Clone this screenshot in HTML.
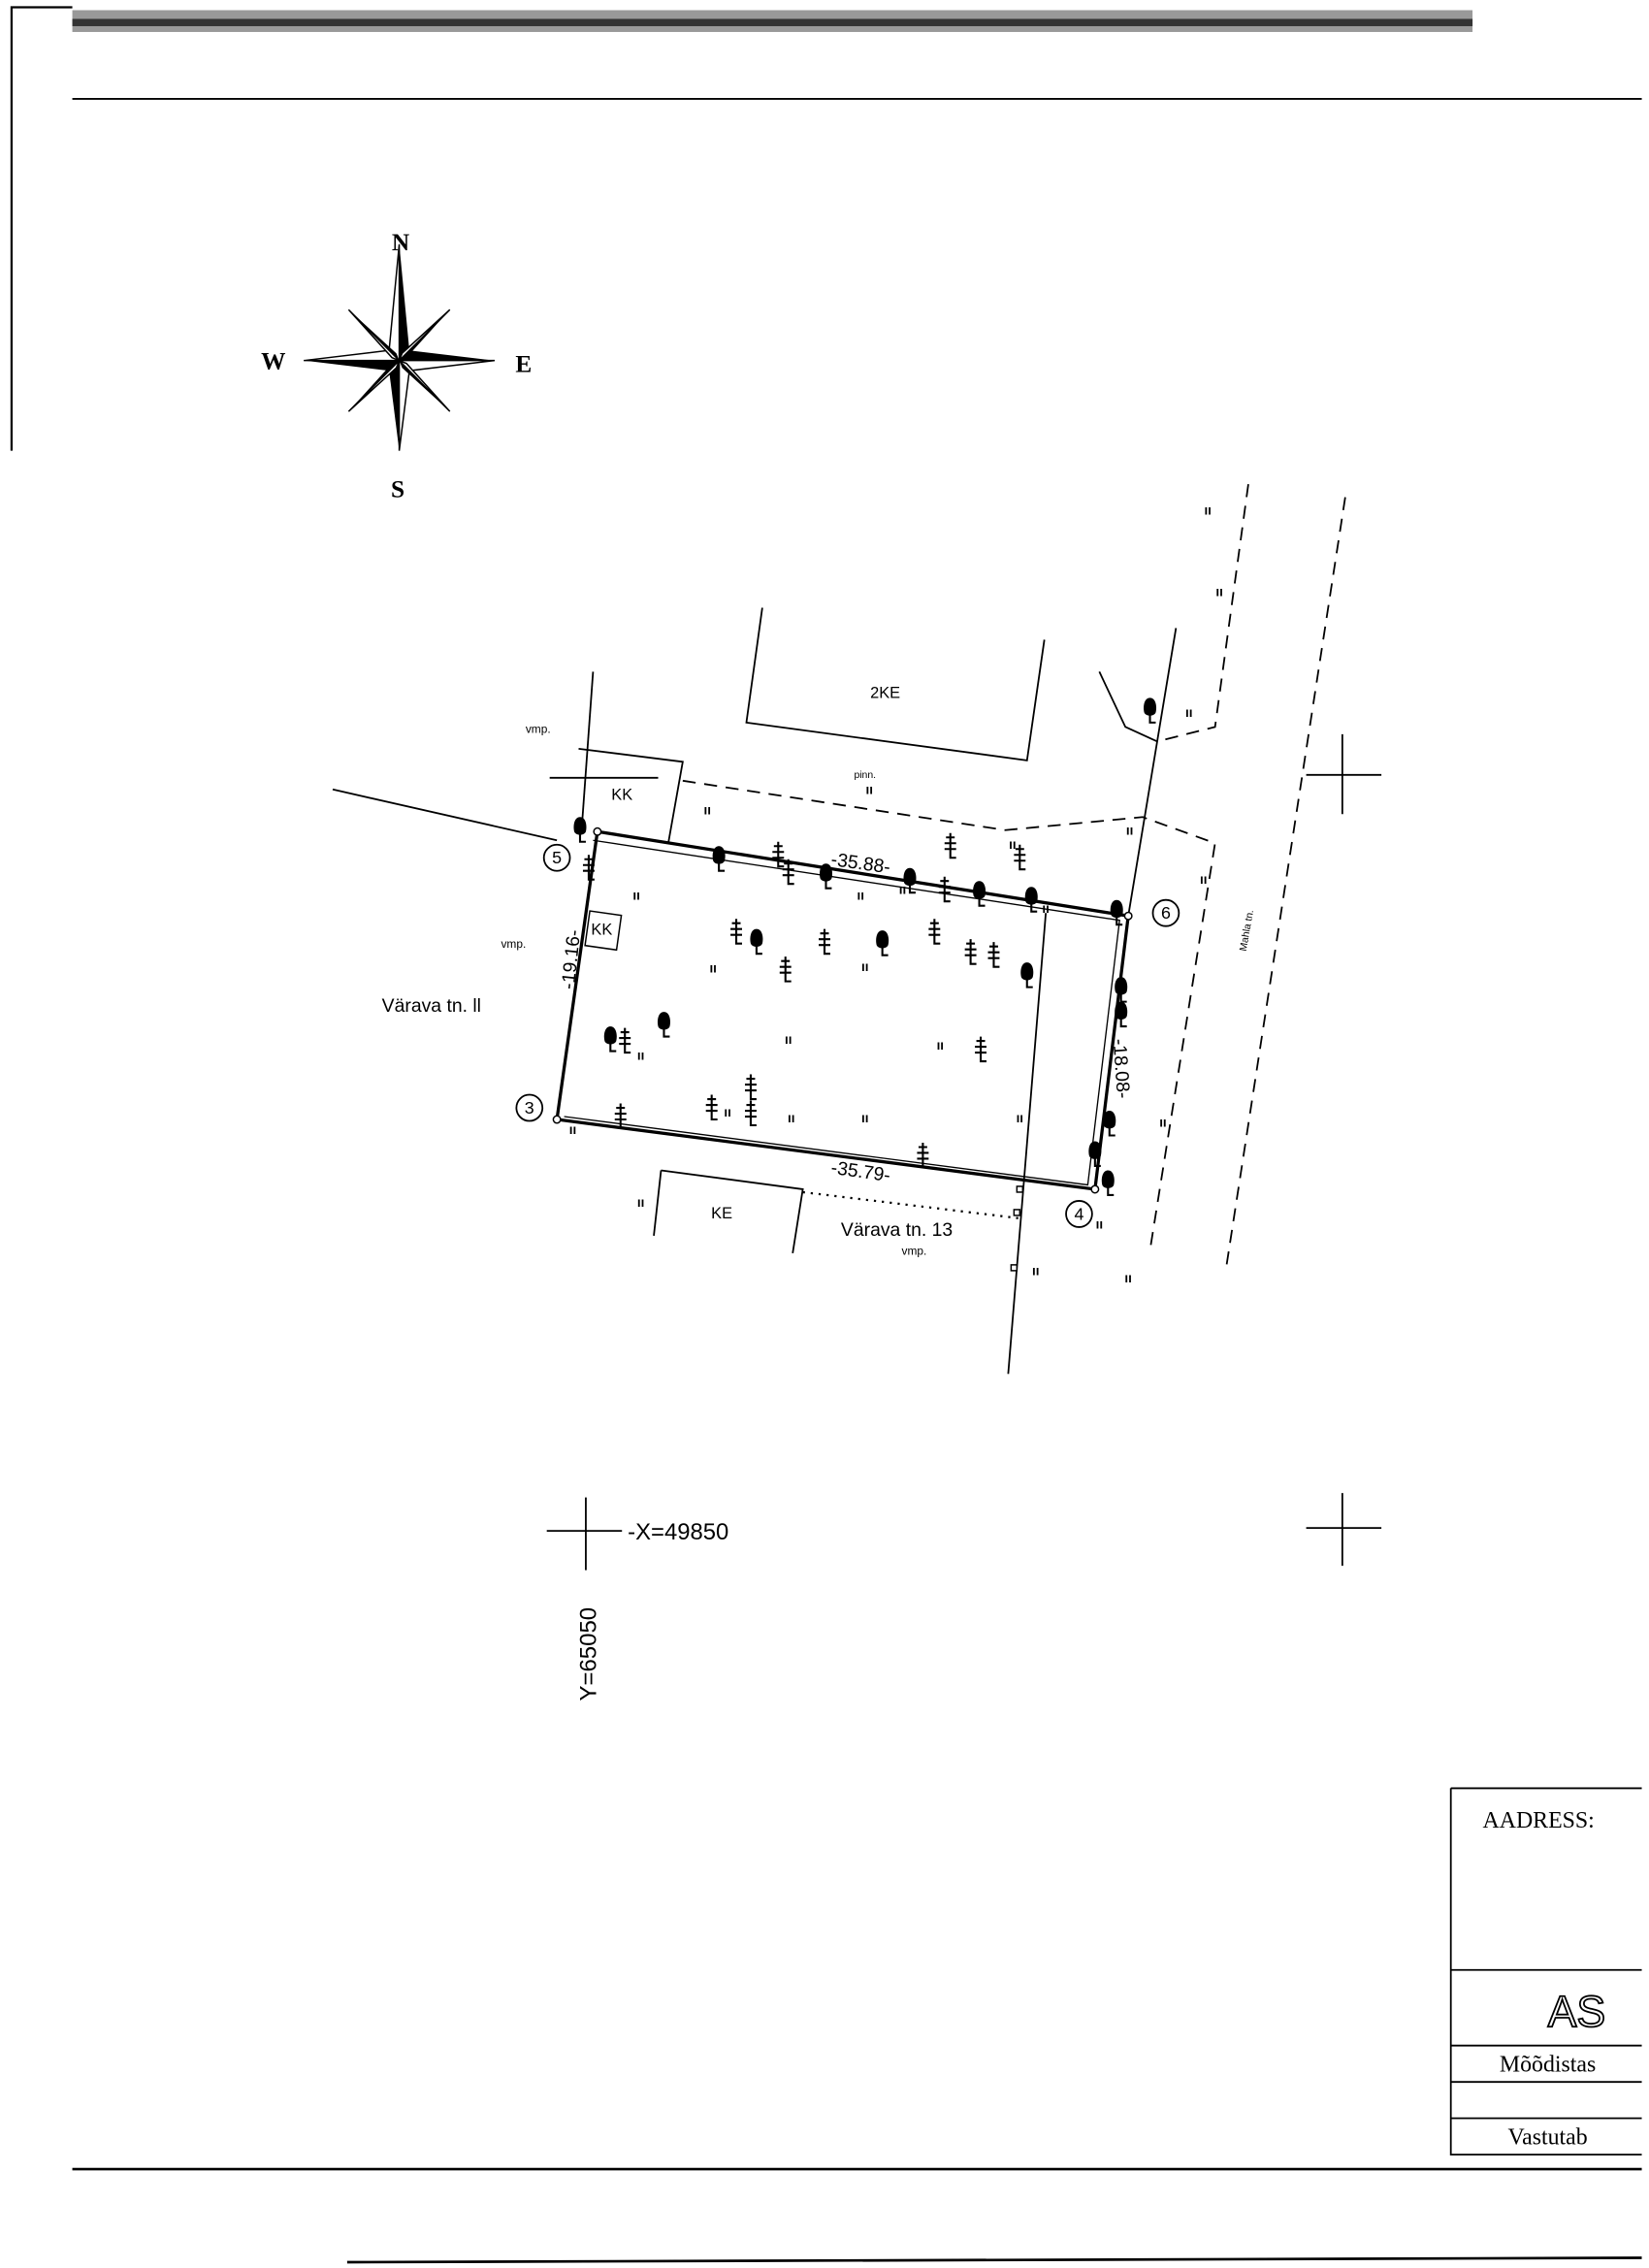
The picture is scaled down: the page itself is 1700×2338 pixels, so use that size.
<!DOCTYPE html>
<html><head><meta charset="utf-8"><style>html,body{margin:0;padding:0;background:#fff}svg{display:block}</style></head><body>
<svg width="1700" height="2338" viewBox="0 0 1140 1560" preserveAspectRatio="none" xmlns="http://www.w3.org/2000/svg" font-family="Liberation Sans, sans-serif">
<defs>
<g id="d"><path d="M0,-8 C4,-8 5,-2 4,2 C3,5 -3,5 -4,2 C-5,-2 -4,-8 0,-8Z" fill="#000"/><path d="M0,3 L0,9 L4,9" stroke="#000" stroke-width="1.4" fill="none"/></g>
<g id="s" stroke="#000" stroke-width="1.4" fill="none"><path d="M0,-9 L0,8 L4,8"/><path d="M-3,-6 H3 M-4,-2 H4 M-4,2 H4"/></g>
</defs>
<rect width="1140" height="1560" fill="#fff"/>
<!-- frame -->
<path d="M8,310 V5 H50" stroke="#000" stroke-width="1.5" fill="none"/>
<rect x="50" y="7" width="968" height="15" fill="#999"/>
<rect x="50" y="13" width="968" height="5" fill="#333"/>
<line x1="50" y1="68" x2="1135" y2="68" stroke="#000" stroke-width="1.3"/>
<line x1="50" y1="1492" x2="1135" y2="1492" stroke="#000" stroke-width="1.8"/>
<line x1="240" y1="1556" x2="1135" y2="1553" stroke="#000" stroke-width="1.8"/>
<!-- compass -->
<g transform="translate(276,248)">
<polygon points="0,-80 7,-7 0,0" fill="#000"/><polygon points="0,-80 -7,-7 0,0" fill="#fff" stroke="#000"/>
<polygon points="0,62 -7,7 0,0" fill="#000"/><polygon points="0,62 7,7 0,0" fill="#fff" stroke="#000"/>
<polygon points="-66,0 -7,7 0,0" fill="#000"/><polygon points="-66,0 -7,-7 0,0" fill="#fff" stroke="#000"/>
<polygon points="66,0 7,-7 0,0" fill="#000"/><polygon points="66,0 7,7 0,0" fill="#fff" stroke="#000"/>
<polygon points="35,-35 5,-2 0,0" fill="#000"/><polygon points="35,-35 2,-5 0,0" fill="#fff" stroke="#000"/>
<polygon points="-35,35 -5,2 0,0" fill="#000"/><polygon points="-35,35 -2,5 0,0" fill="#fff" stroke="#000"/>
<polygon points="-35,-35 -2,-5 0,0" fill="#000"/><polygon points="-35,-35 -5,-2 0,0" fill="#fff" stroke="#000"/>
<polygon points="35,35 2,5 0,0" fill="#000"/><polygon points="35,35 5,2 0,0" fill="#fff" stroke="#000"/>
</g>
<g font-family="Liberation Serif, serif" font-weight="bold" font-size="17" text-anchor="middle">
<text x="277" y="172">N</text><text x="189" y="254">W</text><text x="362" y="256">E</text><text x="275" y="342">S</text></g>
<!-- plan lines -->
<g stroke="#000" fill="none" stroke-width="1.2">
<path d="M230,543 L385,578"/>
<path d="M410,462 L402,572"/>
<path d="M400,515 L472,524 L462,580"/>
<path d="M380,535 L455,535"/>
<path d="M527,418 L516,497 L710,523 L722,440"/>
<path d="M813,432 L780,630"/>
<path d="M723,628 L697,945"/>
<path d="M760,462 L778,500 L800,510"/>
<path d="M457,805 L452,850 M457,805 L555,818 L548,862"/>
<path d="M903,533 H955 M928,505 V560"/>
<path d="M378,1053 H430 M405,1030 V1080"/>
<path d="M903,1051 H955 M928,1027 V1077"/>
</g>
<g stroke="#000" fill="none" stroke-width="1.2" stroke-dasharray="9,6">
<path d="M472,537 L695,571 L790,562 L840,580 L795,860"/>
<path d="M863,333 L840,500 L800,510"/>
<path d="M930,342 L848,870"/>
</g>
<path d="M555,820 L705,838" stroke="#000" stroke-width="1.5" stroke-dasharray="1.5,4"/>
<!-- parcel -->
<g stroke="#000" fill="none">
<path d="M413,572 L780,630 L757,818 L385,770 Z" stroke-width="2.2"/>
<path d="M410,578 L774,633 L752,815 L390,768" stroke-width="0.9"/>
</g>
<g fill="#fff" stroke="#000" stroke-width="1"><circle cx="413" cy="572" r="2.5"/><circle cx="780" cy="630" r="2.5"/><circle cx="757" cy="818" r="2.5"/><circle cx="385" cy="770" r="2.5"/><rect x="703" y="816" width="4" height="4"/><rect x="701" y="832" width="4" height="4"/><rect x="699" y="870" width="4" height="4"/></g>
<rect x="406" y="628" width="22" height="24" transform="rotate(8 417 640)" fill="#fff" stroke="#000"/>
<!-- trees -->
<g>
<use href="#d" x="401" y="570"/><use href="#d" x="497" y="590"/><use href="#d" x="571" y="602"/><use href="#d" x="629" y="605"/><use href="#d" x="677" y="614"/><use href="#d" x="713" y="618"/><use href="#d" x="772" y="627"/><use href="#d" x="523" y="647"/><use href="#d" x="610" y="648"/><use href="#d" x="710" y="670"/><use href="#d" x="775" y="680"/><use href="#d" x="775" y="697"/><use href="#d" x="459" y="704"/><use href="#d" x="422" y="714"/><use href="#d" x="767" y="772"/><use href="#d" x="757" y="793"/><use href="#d" x="766" y="813"/><use href="#d" x="795" y="488"/>
<use href="#s" x="538" y="588"/><use href="#s" x="545" y="600"/><use href="#s" x="657" y="582"/><use href="#s" x="705" y="590"/><use href="#s" x="653" y="612"/><use href="#s" x="509" y="641"/><use href="#s" x="570" y="648"/><use href="#s" x="646" y="641"/><use href="#s" x="671" y="655"/><use href="#s" x="687" y="657"/><use href="#s" x="543" y="667"/><use href="#s" x="678" y="722"/><use href="#s" x="429" y="768"/><use href="#s" x="492" y="762"/><use href="#s" x="519" y="748"/><use href="#s" x="519" y="766"/><use href="#s" x="638" y="795"/><use href="#s" x="407" y="597"/><use href="#s" x="432" y="716"/>
</g>
<g font-size="9" font-weight="bold" text-anchor="middle">
<text x="489" y="560">ıı</text><text x="601" y="546">ıı</text><text x="440" y="619">ıı</text><text x="595" y="619">ıı</text><text x="700" y="584">ıı</text><text x="781" y="574">ıı</text><text x="493" y="669">ıı</text><text x="598" y="668">ıı</text><text x="545" y="718">ıı</text><text x="650" y="722">ıı</text><text x="443" y="729">ıı</text><text x="547" y="772">ıı</text><text x="598" y="772">ıı</text><text x="705" y="772">ıı</text><text x="760" y="845">ıı</text><text x="716" y="877">ıı</text><text x="780" y="882">ıı</text><text x="443" y="830">ıı</text><text x="835" y="354">ıı</text><text x="843" y="410">ıı</text><text x="822" y="493">ıı</text><text x="832" y="608">ıı</text><text x="804" y="775">ıı</text><text x="396" y="780">ıı</text><text x="503" y="768">ıı</text><text x="624" y="615">ıı</text><text x="723" y="628">ıı</text>
</g>
<!-- labels -->
<g font-size="11">
<text x="612" y="480" text-anchor="middle">2KE</text>
<text x="598" y="535" font-size="7" text-anchor="middle">pinn.</text>
<text x="372" y="504" font-size="8" text-anchor="middle">vmp.</text>
<text x="430" y="550" text-anchor="middle">KK</text>
<text x="416" y="643" text-anchor="middle">KK</text>
<text x="355" y="652" font-size="8" text-anchor="middle">vmp.</text>
<text x="264" y="696" font-size="13">Värava tn. ll</text>
<text x="595" y="598" font-size="13" text-anchor="middle" transform="rotate(8 595 594)">-35.88-</text>
<text x="595" y="810" font-size="13" text-anchor="middle" transform="rotate(8 595 806)">-35.79-</text>
<text x="395" y="664" font-size="13" text-anchor="middle" transform="rotate(-84 395 660)">-19.16-</text>
<text x="775" y="739" font-size="13" text-anchor="middle" transform="rotate(86 775 735)">-18.08-</text>
<text x="499" y="838" text-anchor="middle">KE</text>
<text x="620" y="850" font-size="13" text-anchor="middle">Värava tn. 13</text>
<text x="632" y="863" font-size="8" text-anchor="middle">vmp.</text>
<text x="862" y="642" font-size="7" text-anchor="middle" transform="rotate(-80 862 640)">Mahla tn.</text>
</g>
<g fill="none" stroke="#000" stroke-width="1.2"><circle cx="385" cy="590" r="9"/><circle cx="806" cy="628" r="9"/><circle cx="366" cy="762" r="9"/><circle cx="746" cy="835" r="9"/></g>
<g font-size="12" text-anchor="middle"><text x="385" y="594">5</text><text x="806" y="632">6</text><text x="366" y="766">3</text><text x="746" y="839">4</text></g>
<text x="434" y="1059" font-size="16">-X=49850</text>
<text x="412" y="1170" font-size="16" transform="rotate(-90 412 1170)">Y=65050</text>
<!-- title block -->
<g stroke="#000" fill="none" stroke-width="1.2">
<path d="M1003,1230 V1482 H1135 M1003,1230 H1135"/>
<path d="M1003,1355 H1135 M1003,1407 H1135 M1003,1432 H1135 M1003,1457 H1135"/>
</g>
<g font-family="Liberation Serif, serif" font-size="16">
<text x="1025" y="1257">AADRESS:</text>
<text x="1090" y="1394" font-family="Liberation Sans, sans-serif" font-size="30" fill="#fff" stroke="#000" stroke-width="1.2" text-anchor="middle">AS</text>
<text x="1070" y="1425" text-anchor="middle">Mõõdistas</text>
<text x="1070" y="1475" text-anchor="middle">Vastutab</text>
</g>
</svg>
</body></html>
